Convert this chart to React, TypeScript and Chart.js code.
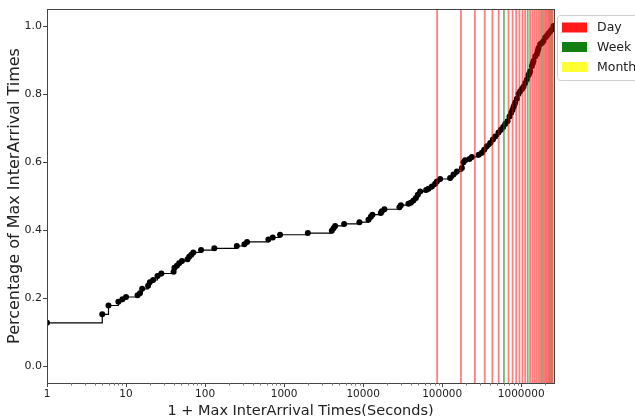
import React, { useEffect, useRef } from "react";
import { Chart, registerables } from "chart.js";

Chart.register(...registerables);

// 1 + max inter-arrival time (seconds)
const xValues = [
  1, 5, 6, 8, 9, 10, 14, 15, 16, 19, 20, 22, 25, 28, 40, 41, 44, 47, 51, 60,
  63, 67, 71, 89, 131, 252, 315, 340, 632, 719, 889, 1996, 4018, 4217, 4424,
  5745, 8977, 11670, 12500, 13120, 16750, 17250, 18600, 28800, 30000, 37400,
  40100, 43300, 46500, 49200, 52700, 62700, 67100, 74100, 81500, 85700, 94300,
  126000, 139000, 153500, 177600, 186000, 195500, 221600, 237600, 290000,
  318000, 340000, 368000, 405000, 438000, 469000, 516000, 553000, 592000,
  627000, 671000, 711000, 747000, 775000, 799000, 820000, 840000, 882000,
  924000, 971000, 1021000, 1069000, 1124000, 1181000, 1237000, 1270000,
  1300000, 1366000, 1400000, 1431000, 1504000, 1580000, 1620000, 1656000,
  1740000, 1828000, 1915000, 2013000, 2115000, 2216000, 2328000, 2446000,
  2564000,
];

// percentage (fraction) of max inter-arrival times
const yValues = [
  0.127, 0.152, 0.178, 0.189, 0.196, 0.203, 0.208, 0.214, 0.227, 0.236, 0.246,
  0.253, 0.265, 0.272, 0.277, 0.289, 0.295, 0.302, 0.309, 0.314, 0.321, 0.327,
  0.334, 0.341, 0.346, 0.353, 0.358, 0.365, 0.372, 0.378, 0.386, 0.391, 0.398,
  0.405, 0.412, 0.418, 0.423, 0.43, 0.439, 0.445, 0.45, 0.455, 0.461, 0.467,
  0.473, 0.477, 0.48, 0.487, 0.494, 0.504, 0.513, 0.518, 0.521, 0.528, 0.536,
  0.543, 0.55, 0.553, 0.563, 0.572, 0.582, 0.599, 0.605, 0.609, 0.615, 0.621,
  0.627, 0.636, 0.646, 0.656, 0.666, 0.675, 0.687, 0.695, 0.703, 0.712, 0.72,
  0.734, 0.745, 0.753, 0.762, 0.768, 0.775, 0.786, 0.8, 0.808, 0.815, 0.821,
  0.832, 0.843, 0.855, 0.861, 0.867, 0.882, 0.89, 0.897, 0.91, 0.918, 0.927,
  0.935, 0.946, 0.95, 0.956, 0.966, 0.971, 0.978, 0.984, 0.99, 1.0,
];

const xTickValues = [1, 10, 100, 1000, 10000, 100000, 1000000];
const xMinorMultipliers = [2, 3, 4, 5, 6, 7, 8, 9];
const yTickValues = [0, 0.2, 0.4, 0.6, 0.8, 1.0];

const dayMarks = [
  1, 2, 3, 4, 5, 6, 7, 8, 9, 10, 11, 12, 13, 14, 15, 16, 17, 18, 19, 20, 21,
  22, 23, 24, 25, 26, 27, 28, 29,
];
const weekMarks = [7, 14, 21, 28];
const SECONDS_PER_DAY = 86400;

const legendLabels = ["Day", "Week", "Month"];
const legendColors = ["#ff1a1a", "#118011", "#ffff33"];

const X_MIN = 1;
const X_MAX = 2600000;
const Y_MIN = -0.05;
const Y_MAX = 1.05;

const FONT = "DejaVu Sans";
const AXIS_COLOR = "#444";
const TEXT_COLOR = "#222";

const decorPlugin = {
  id: "decor",
  afterDatasetsDraw(chart: any) {
    const { ctx, chartArea: a, scales } = chart;
    const xs = scales.x;
    ctx.save();
    ctx.beginPath();
    ctx.rect(a.left, a.top, a.right - a.left, a.bottom - a.top);
    ctx.clip();
    ctx.lineWidth = 1.8;
    dayMarks.forEach((d) => {
      const px = xs.getPixelForValue(d * SECONDS_PER_DAY);
      ctx.strokeStyle = weekMarks.includes(d)
        ? "rgba(0,128,0,0.55)"
        : "rgba(255,0,0,0.5)";
      ctx.beginPath();
      ctx.moveTo(px, a.top);
      ctx.lineTo(px, a.bottom);
      ctx.stroke();
    });
    ctx.restore();
  },
  afterDraw(chart: any) {
    const { ctx, chartArea: a, scales } = chart;
    const xs = scales.x;
    ctx.save();
    // frame
    ctx.strokeStyle = AXIS_COLOR;
    ctx.lineWidth = 1;
    ctx.strokeRect(
      Math.round(a.left) + 0.5,
      Math.round(a.top) + 0.5,
      Math.round(a.right - a.left),
      Math.round(a.bottom - a.top)
    );
    // minor ticks
    ctx.strokeStyle = "#777";
    xTickValues.forEach((p) => {
      xMinorMultipliers.forEach((m) => {
        const v = p * m;
        if (v <= X_MAX) {
          const px = Math.round(xs.getPixelForValue(v)) + 0.5;
          ctx.beginPath();
          ctx.moveTo(px, a.bottom);
          ctx.lineTo(px, a.bottom + 2.5);
          ctx.stroke();
        }
      });
    });
    // legend
    const lx = 557.5;
    const ly = 15.5;
    ctx.fillStyle = "rgba(255,255,255,0.8)";
    ctx.strokeStyle = "#d0d0d0";
    ctx.beginPath();
    ctx.roundRect(lx, ly, 100, 65, 3);
    ctx.fill();
    ctx.stroke();
    const centers = [27.5, 47, 67];
    ctx.font = `12.5px "${FONT}"`;
    ctx.textBaseline = "middle";
    ctx.textAlign = "left";
    legendLabels.forEach((label, i) => {
      ctx.fillStyle = legendColors[i];
      ctx.fillRect(562, centers[i] - 5, 25, 10);
      ctx.fillStyle = TEXT_COLOR;
      ctx.fillText(label, 597, centers[i] + 0.5);
    });
    ctx.restore();
  },
};

export default function App() {
  const canvasRef = useRef<HTMLCanvasElement | null>(null);

  useEffect(() => {
    if (!canvasRef.current) return;
    const points = xValues.map((x, i) => ({ x, y: yValues[i] }));
    const chart = new Chart(canvasRef.current, {
      type: "line",
      data: {
        datasets: [
          {
            data: points,
            stepped: "before",
            borderColor: "#000",
            borderWidth: 1.2,
            pointRadius: 3,
            pointBackgroundColor: "#000",
            pointBorderColor: "#000",
            pointBorderWidth: 0,
            fill: false,
          },
        ],
      },
      options: {
        responsive: false,
        animation: false,
        devicePixelRatio: 1,
        layout: { padding: { left: 0, right: 81, top: 9, bottom: 0 } },
        plugins: {
          legend: { display: false },
          tooltip: { enabled: false },
        },
        scales: {
          x: {
            type: "logarithmic",
            min: X_MIN,
            max: X_MAX,
            afterFit: (s: any) => {
              s.height = 33;
            },
            afterBuildTicks: (s: any) => {
              s.ticks = xTickValues.map((v) => ({ value: v, major: true }));
            },
            border: { display: false },
            grid: {
              drawOnChartArea: false,
              drawTicks: true,
              tickLength: 4,
              color: AXIS_COLOR,
            },
            ticks: {
              autoSkip: false,
              maxRotation: 0,
              padding: 1,
              color: TEXT_COLOR,
              font: { family: FONT, size: 10.5 },
              callback: (v: any) => String(v),
            },
            title: {
              display: true,
              text: "1 + Max InterArrival Times(Seconds)",
              color: TEXT_COLOR,
              font: { family: FONT, size: 14.5, lineHeight: 0.6 },
              padding: 0,
            },
          },
          y: {
            type: "linear",
            min: Y_MIN,
            max: Y_MAX,
            afterFit: (s: any) => {
              s.width = 47;
            },
            afterBuildTicks: (s: any) => {
              s.ticks = yTickValues.map((v) => ({ value: v }));
            },
            border: { display: false },
            grid: {
              drawOnChartArea: false,
              drawTicks: true,
              tickLength: 4,
              color: AXIS_COLOR,
            },
            ticks: {
              padding: 1,
              color: TEXT_COLOR,
              font: { family: FONT, size: 11 },
              callback: (v: any) => Number(v).toFixed(1),
            },
            title: {
              display: true,
              text: "Percentage of Max InterArrival Times",
              color: TEXT_COLOR,
              font: { family: FONT, size: 16 },
              padding: { top: 5, bottom: 0 },
            },
          },
        },
      },
      plugins: [decorPlugin],
    });
    return () => chart.destroy();
  }, []);

  return (
    <div style={{ position: "absolute", left: 0, top: 0, width: 635, height: 416, background: "#fff" }}>
      <canvas ref={canvasRef} width={635} height={416} />
    </div>
  );
}
